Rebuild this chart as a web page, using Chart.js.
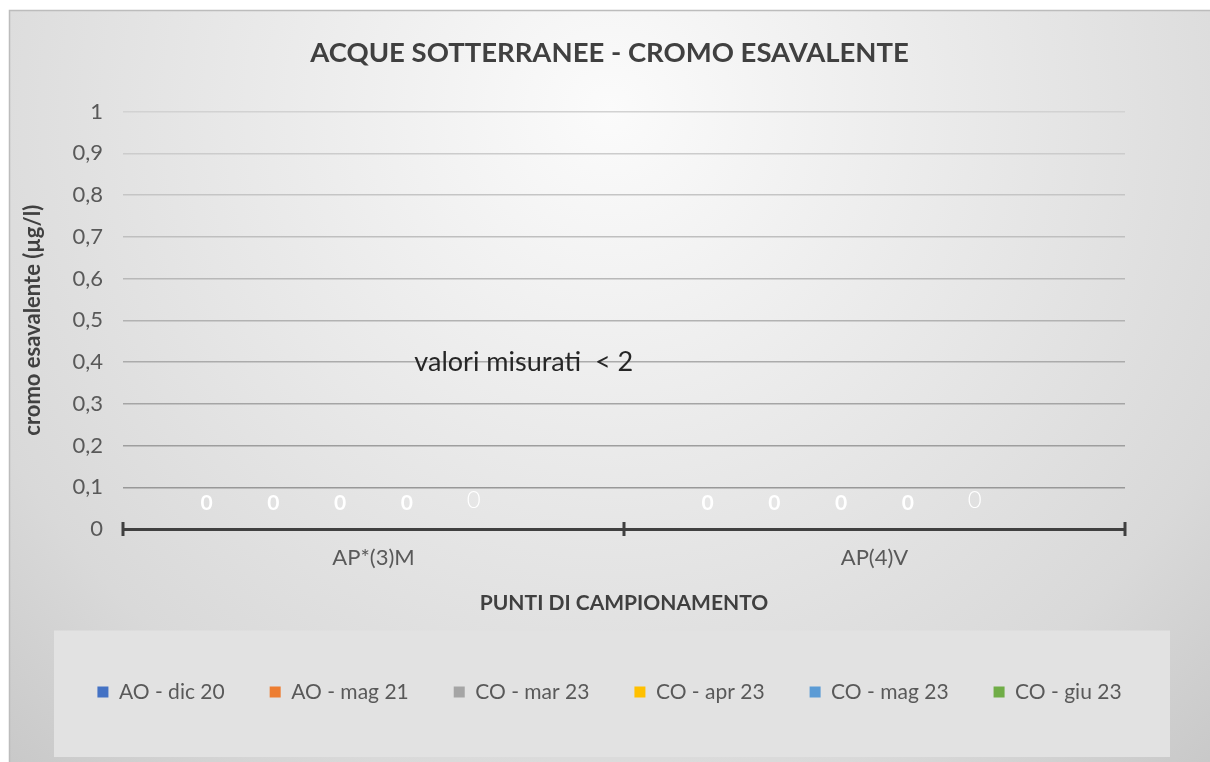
<!DOCTYPE html>
<html>
<head>
<meta charset="utf-8">
<script src="https://cdn.jsdelivr.net/npm/chart.js@4.4.0/dist/chart.umd.min.js"></script>
<style>
  html, body { margin: 0; padding: 0; background: #ffffff; }
  canvas { display: block; }
</style>
</head>
<body>
<canvas id="chart" width="1210" height="762"></canvas>
<script>
// data
var categories = ['AP*(3)M', 'AP(4)V'];
var seriesNames = ['AO - dic 20', 'AO - mag 21', 'CO - mar 23', 'CO - apr 23', 'CO - mag 23', 'CO - giu 23'];
var aoDic20 = [0, 0];
var aoMag21 = [0, 0];
var coMar23 = [0, 0];
var coApr23 = [0, 0];
var coMag23 = [0, 0];
var coGiu23 = [null, null];
var yTickLabels = ['0', '0,1', '0,2', '0,3', '0,4', '0,5', '0,6', '0,7', '0,8', '0,9', '1'];
var noteText = 'valori misurati  < 2';
var noteValue = 0.4;

var seriesColors = ['#4472C4', '#ED7D31', '#A5A5A5', '#FFC000', '#5B9BD5', '#70AD47'];
var seriesData = [aoDic20, aoMag21, coMar23, coApr23, coMag23, coGiu23];

// background, frame and the grey legend panel
var backdrop = {
  id: 'backdrop',
  beforeDraw: function(chart) {
    var ctx = chart.ctx, w = chart.width, h = chart.height;
    ctx.save();
    ctx.fillStyle = '#ffffff';
    ctx.fillRect(0, 0, w, h);
    var g = ctx.createRadialGradient(610, 110, 0, 610, 110, 920);
    g.addColorStop(0, '#fbfbfb');
    g.addColorStop(0.35, '#ebebeb');
    g.addColorStop(0.75, '#d9d9d9');
    g.addColorStop(1, '#c6c6c6');
    ctx.fillStyle = g;
    ctx.fillRect(9, 10, w - 9, h - 10);
    ctx.strokeStyle = '#bcbcbc';
    ctx.lineWidth = 1.5;
    ctx.beginPath();
    ctx.moveTo(9.5, h);
    ctx.lineTo(9.5, 10.5);
    ctx.lineTo(w, 10.5);
    ctx.stroke();

    var lg = chart.legend;
    if (lg) {
      ctx.fillStyle = '#e2e2e2';
      ctx.fillRect(lg.left + 45, lg.top - 6, lg.right - lg.left - 85, h - lg.top + 1);
    }
    ctx.restore();
  }
};

// little cross ticks on the category axis
var axisTicks = {
  id: 'axisTicks',
  afterDatasetsDraw: function(chart) {
    var ctx = chart.ctx, xs = chart.scales.x;
    var y = chart.chartArea.bottom;
    var n = categories.length, step = xs.width / n;
    ctx.save();
    ctx.strokeStyle = '#404040';
    ctx.lineWidth = 3;
    for (var i = 0; i <= n; i++) {
      var x = xs.left + i * step;
      ctx.beginPath();
      ctx.moveTo(x, y - 7);
      ctx.lineTo(x, y + 7);
      ctx.stroke();
    }
    ctx.restore();
  }
};

// white value labels above the (zero height) bars + the note
var valueLabels = {
  id: 'valueLabels',
  afterDatasetsDraw: function(chart) {
    var ctx = chart.ctx;
    ctx.save();
    ctx.textAlign = 'center';
    ctx.textBaseline = 'middle';
    ctx.fillStyle = '#ffffff';
    chart.data.datasets.forEach(function(ds, di) {
      var meta = chart.getDatasetMeta(di);
      meta.data.forEach(function(bar, i) {
        var v = ds.data[i];
        if (v === null || v === undefined) return;
        if (di === 4) {
          ctx.font = '300 24px Lato';
          ctx.fillText(String(v), bar.x, bar.y - 29);
        } else {
          ctx.font = 'bold 21px Lato';
          ctx.fillText(String(v), bar.x, bar.y - 26);
        }
      });
    });

    var xs = chart.scales.x, ys = chart.scales.y;
    var x0 = xs.getPixelForValue(0), x1 = xs.getPixelForValue(1);
    ctx.font = '27px Lato';
    ctx.fillStyle = '#262626';
    ctx.textBaseline = 'alphabetic';
    ctx.fillText(noteText, x0 + 0.3 * (x1 - x0), ys.getPixelForValue(noteValue) + 9);
    ctx.restore();
  }
};

var ctx = document.getElementById('chart').getContext('2d');
new Chart(ctx, {
  type: 'bar',
  data: {
    labels: categories,
    datasets: seriesNames.map(function(name, i) {
      return {
        label: name,
        data: seriesData[i],
        backgroundColor: seriesColors[i],
        borderWidth: 0
      };
    })
  },
  options: {
    responsive: false,
    animation: false,
    devicePixelRatio: 1,
    layout: { padding: { top: 10, left: 9, right: 0, bottom: 49.5 } },
    plugins: {
      title: {
        display: true,
        text: 'ACQUE SOTTERRANEE - CROMO ESAVALENTE',
        color: '#404040',
        font: { family: 'Lato', size: 27.5, weight: 'bold' },
        padding: { top: 27, bottom: 41.5 }
      },
      legend: {
        position: 'bottom',
        labels: {
          boxWidth: 11,
          boxHeight: 11,
          padding: 45,
          color: '#595959',
          font: { family: 'Lato', size: 21 }
        }
      },
      tooltip: { enabled: false }
    },
    scales: {
      x: {
        grid: { display: false, drawTicks: false },
        border: { color: '#404040', width: 3 },
        ticks: { padding: 16, color: '#595959', font: { family: 'Lato', size: 22 } },
        title: {
          display: true,
          text: 'PUNTI DI CAMPIONAMENTO',
          color: '#404040',
          font: { family: 'Lato', size: 21, weight: 'bold' },
          padding: { top: 0, bottom: 21 }
        },
        afterFit: function(s) { s.height = 107.5; }
      },
      y: {
        min: 0,
        max: 1,
        ticks: {
          stepSize: 0.1,
          padding: 20,
          color: '#595959',
          font: { family: 'Lato', size: 22 },
          callback: function(v, i) { return yTickLabels[i]; }
        },
        grid: {
          drawTicks: false,
          lineWidth: 1.5,
          color: function(c) {
            var l = Math.round(145 + 65 * (c.tick ? c.tick.value : 0));
            return 'rgb(' + l + ',' + l + ',' + l + ')';
          }
        },
        border: { display: false },
        title: {
          display: true,
          text: 'cromo esavalente (µg/l)',
          color: '#404040',
          font: { family: 'Lato', size: 22, weight: 'bold' },
          padding: { top: 11, bottom: 0 }
        },
        afterFit: function(s) { s.width = 114; }
      },
      yPad: {
        position: 'right',
        display: true,
        grid: { display: false, drawTicks: false },
        ticks: { display: false },
        border: { display: false },
        afterFit: function(s) { s.width = 85; }
      }
    }
  },
  plugins: [backdrop, axisTicks, valueLabels]
});
</script>
</body>
</html>
